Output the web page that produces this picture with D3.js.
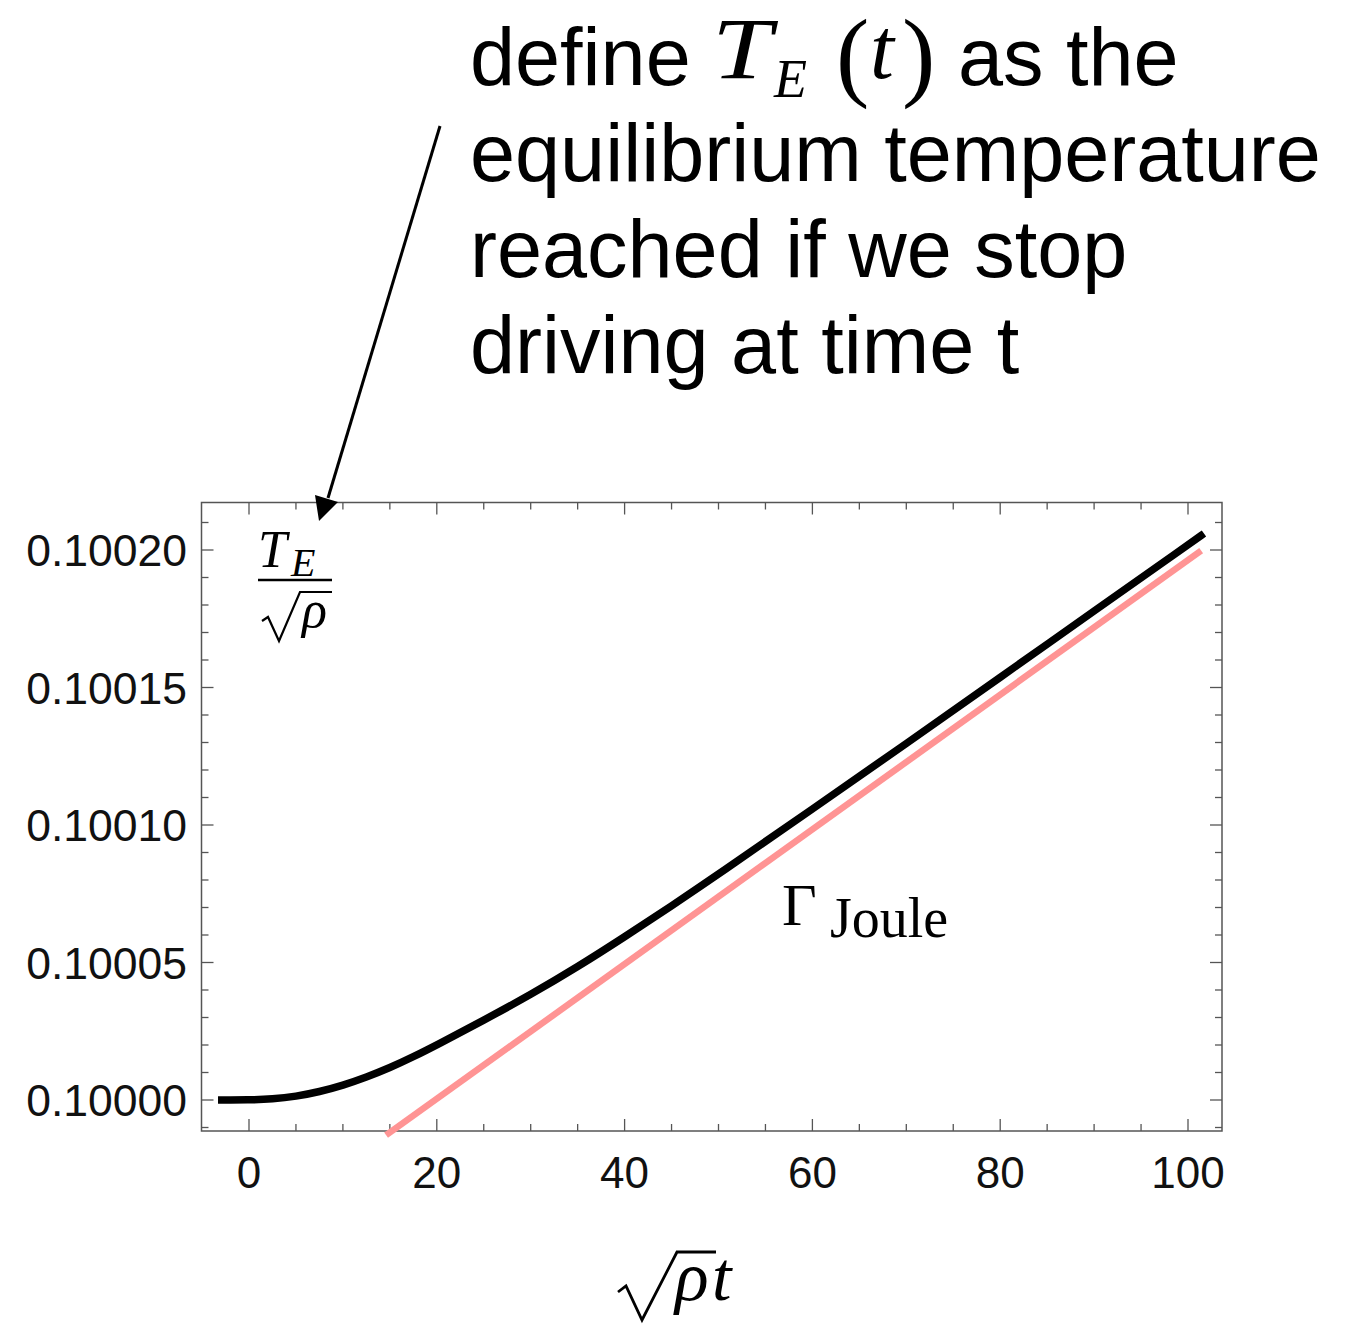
<!DOCTYPE html>
<html><head><meta charset="utf-8">
<script src="https://cdn.jsdelivr.net/npm/d3@7"></script>
<style>body{margin:0;background:#fff}</style>
</head><body><svg id="c" width="1345" height="1324"></svg>
<script>
// ---- data ----
const xTickValues = [0, 20, 40, 60, 80, 100];
const xTickLabels = ["0", "20", "40", "60", "80", "100"];
const yTickValues = [0.10000, 0.10005, 0.10010, 0.10015, 0.10020];
const yTickLabels = ["0.10000", "0.10005", "0.10010", "0.10015", "0.10020"];
const curveX = [-3.3, 0, 2.5, 5, 7.5, 10, 12.5, 15, 17.5, 20, 25, 30, 35, 40, 45, 50, 60, 70, 80, 90, 100, 101.7];
const curveY = [0.1, 0.1, 0.10000035, 0.1000013, 0.100003, 0.1000053, 0.1000083, 0.1000117, 0.1000157, 0.10002,
  0.100029, 0.1000383, 0.1000484, 0.1000593, 0.1000706, 0.1000821, 0.1001058, 0.1001296, 0.1001537, 0.1001778, 0.1002019, 0.100206];
const jouleX = [14.6, 101.4];
const jouleY = [0.0999872, 0.1001998];
const textLines = ["equilibrium temperature", "reached if we stop", "driving at time t"];

// ---- layout ----
const svg = d3.select("#c");
const x = d3.scaleLinear().domain([0, 100]).range([249, 1188]);
const y = d3.scaleLinear().domain([0.1, 0.1002]).range([1100, 550]);
const L = 201.5, R = 1222, T = 502.5, B = 1131;
const frameColor = "#555";
const sans = "'Liberation Sans', Arial, Helvetica, sans-serif";
const serif = "'Liberation Serif', 'Times New Roman', serif";

// frame
svg.append("rect").attr("x", L).attr("y", T).attr("width", R - L).attr("height", B - T)
  .attr("fill", "none").attr("stroke", frameColor).attr("stroke-width", 1.5);

// ticks
const xMinor = d3.range(5, 101, 5).filter(v => !xTickValues.includes(v));
const yMinor = d3.range(-1, 22).map(i => 0.1 + i * 0.00001).filter(v => !yTickValues.some(t => Math.abs(t - v) < 1e-9));
const tg = svg.append("g").attr("stroke", frameColor).attr("stroke-width", 1.3);
function xt(vals, len) {
  vals.forEach(v => {
    tg.append("line").attr("x1", x(v)).attr("x2", x(v)).attr("y1", B).attr("y2", B - len);
    tg.append("line").attr("x1", x(v)).attr("x2", x(v)).attr("y1", T).attr("y2", T + len);
  });
}
function yt(vals, len) {
  vals.forEach(v => {
    tg.append("line").attr("y1", y(v)).attr("y2", y(v)).attr("x1", L).attr("x2", L + len);
    tg.append("line").attr("y1", y(v)).attr("y2", y(v)).attr("x1", R).attr("x2", R - len);
  });
}
xt(xTickValues, 12); xt(xMinor, 7);
yt(yTickValues, 12); yt(yMinor, 7);

// tick labels
xTickValues.forEach((v, i) => {
  svg.append("text").attr("x", x(v)).attr("y", 1188).attr("text-anchor", "middle")
    .attr("font-family", sans).attr("font-size", 44).attr("fill", "#111").text(xTickLabels[i]);
});
yTickValues.forEach((v, i) => {
  svg.append("text").attr("x", 187).attr("y", y(v) + 16).attr("text-anchor", "end")
    .attr("font-family", sans).attr("font-size", 44.5).attr("fill", "#111").text(yTickLabels[i]);
});

// series
const line = d3.line().x(d => x(d[0])).y(d => y(d[1]));
svg.append("path").datum(jouleX.map((v, i) => [v, jouleY[i]]))
  .attr("d", line).attr("fill", "none").attr("stroke", "#ff9494").attr("stroke-width", 6.5);
svg.append("path").datum(curveX.map((v, i) => [v, curveY[i]]))
  .attr("d", line.curve(d3.curveBasis)).attr("fill", "none").attr("stroke", "#000").attr("stroke-width", 7.5);

// Gamma_Joule label
svg.append("text").attr("x", 782).attr("y", 925).attr("font-family", serif).attr("font-size", 60).text("Γ");
svg.append("text").attr("x", 830).attr("y", 937).attr("font-family", serif).attr("font-size", 56).text("Joule");

// y label fraction T_E / sqrt(rho)
svg.append("text").attr("x", 258).attr("y", 567).attr("font-family", serif).attr("font-style", "italic").attr("font-size", 52).text("T");
svg.append("text").attr("x", 291).attr("y", 576).attr("font-family", serif).attr("font-style", "italic").attr("font-size", 40).text("E");
svg.append("line").attr("x1", 258).attr("x2", 332).attr("y1", 580).attr("y2", 580).attr("stroke", "#000").attr("stroke-width", 2.5);
svg.append("path").attr("d", "M262,621 L268,617 L279,641 L300,592 L332,592").attr("fill", "none").attr("stroke", "#000").attr("stroke-width", 2.2);
svg.append("text").attr("x", 302).attr("y", 627).attr("font-family", serif).attr("font-style", "italic").attr("font-size", 52).text("ρ");

// x label sqrt(rho) t
svg.append("path").attr("d", "M618,1292 L626,1286 L642,1320 L677,1252 L716,1252").attr("fill", "none").attr("stroke", "#000").attr("stroke-width", 2.8);
svg.append("text").attr("x", 675).attr("y", 1300).attr("font-family", serif).attr("font-style", "italic").attr("font-size", 70).text("ρ");
svg.append("text").attr("x", 712).attr("y", 1300).attr("font-family", serif).attr("font-style", "italic").attr("font-size", 70).text("t");

// annotation text
svg.append("text").attr("x", 470).attr("y", 85).attr("font-family", sans).attr("font-size", 81).text("define");
svg.append("text").attr("x", 712).attr("y", 78).attr("font-family", serif).attr("font-style", "italic").attr("font-size", 86)
  .attr("transform", "translate(712,0) scale(1.25,1) translate(-712,0)").text("T");
svg.append("text").attr("x", 774).attr("y", 97).attr("font-family", serif).attr("font-style", "italic").attr("font-size", 54).text("E");
svg.append("text").attr("x", 836).attr("y", 88).attr("font-family", serif).attr("font-size", 100).text("(");
svg.append("text").attr("x", 870).attr("y", 78).attr("font-family", serif).attr("font-style", "italic").attr("font-size", 86).text("t");
svg.append("text").attr("x", 902).attr("y", 88).attr("font-family", serif).attr("font-size", 100).text(")");
svg.append("text").attr("x", 958).attr("y", 85).attr("font-family", sans).attr("font-size", 81).text("as the");
textLines.forEach((s, i) => {
  svg.append("text").attr("x", 470).attr("y", 181 + i * 96).attr("font-family", sans).attr("font-size", 81).text(s);
});

// arrow
svg.append("line").attr("x1", 440).attr("y1", 126).attr("x2", 328).attr("y2", 498).attr("stroke", "#000").attr("stroke-width", 3);
svg.append("path").attr("d", "M319,521 L315,495 L338,502 Z").attr("fill", "#000");
</script></body></html>
